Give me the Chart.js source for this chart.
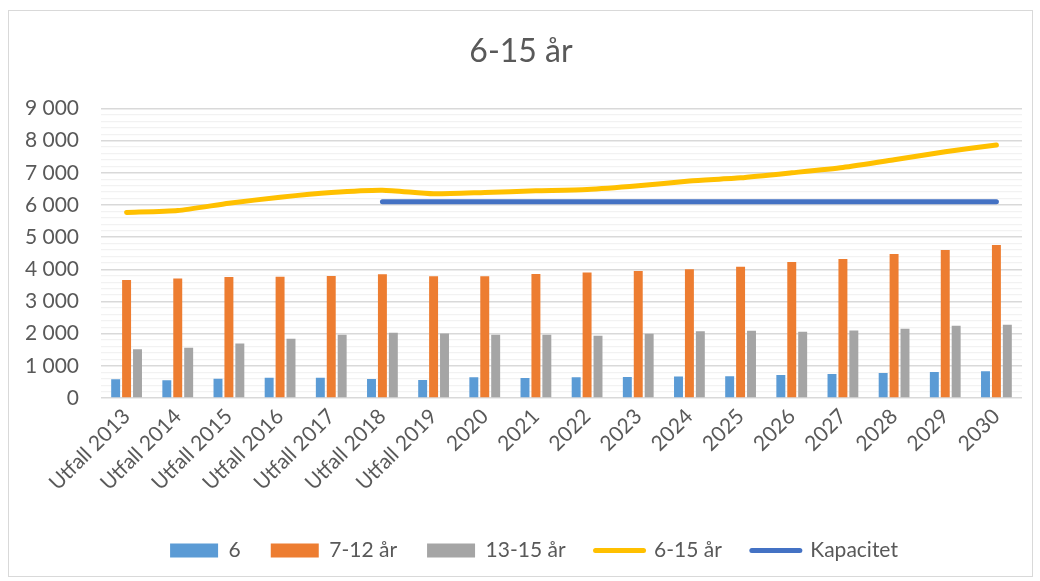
<!DOCTYPE html>
<html>
<head>
<meta charset="utf-8">
<script src="https://cdn.jsdelivr.net/npm/chart.js@4.4.1/dist/chart.umd.min.js"></script>
<style>
  html, body { margin: 0; padding: 0; background: #fff; }
  #wrap { position: relative; width: 1040px; height: 581px; }
  #frame { position: absolute; left: 8px; top: 10px; width: 1023px; height: 565px; border: 1px solid #d9d9d9; }
  canvas { position: absolute; left: 0; top: 0; }
</style>
</head>
<body>
<div id="wrap">
  <div id="frame"></div>
  <canvas id="chart" width="1040" height="581"></canvas>
</div>
<script>
const CATEGORIES = [
  "Utfall 2013", "Utfall 2014", "Utfall 2015", "Utfall 2016", "Utfall 2017",
  "Utfall 2018", "Utfall 2019", "2020", "2021", "2022", "2023", "2024",
  "2025", "2026", "2027", "2028", "2029", "2030",
];

const AGE_6 = [582, 551, 602, 633, 633, 592, 561, 644, 623, 644, 654, 667, 675, 716, 748, 779, 810, 831];
const AGE_7_12 = [3666, 3717, 3759, 3769, 3790, 3842, 3780, 3780, 3852, 3904, 3946, 3998, 4081, 4227, 4320, 4476, 4600, 4757];
const AGE_13_15 = [1517, 1558, 1692, 1838, 1963, 2025, 2004, 1963, 1963, 1931, 1994, 2077, 2087, 2056, 2098, 2150, 2243, 2274];
const AGE_6_15 = [5765, 5826, 6053, 6240, 6386, 6459, 6345, 6387, 6438, 6479, 6594, 6742, 6843, 6999, 7166, 7405, 7653, 7862];
const KAPACITET = [null, null, null, null, null, 6100, 6100, 6100, 6100, 6100, 6100, 6100, 6100, 6100, 6100, 6100, 6100, 6100];

const Y_MAX = 9000;
const Y_STEP = 200;

const FONT = "Lato, 'Liberation Sans', sans-serif";
const TEXT = "#595959";

function fmt(v) {
  return String(v).replace(/\B(?=(\d{3})+(?!\d))/g, " ");
}

function barSet(label, data, color) {
  return {
    type: "bar",
    label,
    data,
    backgroundColor: color,
    borderWidth: 0,
    categoryPercentage: 0.64,
    barPercentage: 0.82,
    order: 2,
  };
}

function lineSet(label, data, color) {
  return {
    type: "line",
    label,
    data,
    borderColor: color,
    backgroundColor: color,
    borderWidth: 5,
    borderCapStyle: "round",
    borderJoinStyle: "round",
    pointRadius: 0,
    pointHoverRadius: 0,
    tension: 0.2,
    spanGaps: false,
    order: 1,
  };
}

// legend in the original sits a bit right of the chart centre
const legendShift = {
  id: "legendShift",
  afterLayout(chart) {
    chart.legend.left += 13;
    chart.legend.right += 13;
  },
};

new Chart(document.getElementById("chart"), {
  data: {
    labels: CATEGORIES,
    datasets: [
      barSet("6", AGE_6, "#5b9bd5"),
      barSet("7-12 år", AGE_7_12, "#ed7d31"),
      barSet("13-15 år", AGE_13_15, "#a5a5a5"),
      lineSet("6-15 år", AGE_6_15, "#ffc000"),
      lineSet("Kapacitet", KAPACITET, "#4472c4"),
    ],
  },
  plugins: [legendShift],
  options: {
    responsive: false,
    animation: false,
    layout: { padding: { top: 15, left: 20, right: 18, bottom: 10 } },
    scales: {
      x: {
        grid: { display: false, drawTicks: false },
        border: { display: false },
        ticks: {
          color: TEXT,
          font: { family: FONT, size: 21 },
          minRotation: 45,
          maxRotation: 45,
          padding: 6,
          autoSkip: false,
        },
        afterFit: (s) => { s.height = 112; },
      },
      y: {
        min: 0,
        max: Y_MAX,
        grid: {
          drawTicks: false,
          color: (c) => (c.tick && c.tick.value % 1000 === 0 ? "#d9d9d9" : "#f2f2f2"),
          lineWidth: (c) => (c.tick && c.tick.value % 1000 === 0 ? 1.5 : 1.2),
        },
        border: { display: false },
        ticks: {
          stepSize: Y_STEP,
          color: TEXT,
          font: { family: FONT, size: 21 },
          padding: 22,
          autoSkip: false,
          callback: (v) => (v % 1000 === 0 ? fmt(v) : ""),
        },
        afterFit: (s) => { s.width = 81; },
      },
    },
    plugins: {
      title: {
        display: true,
        text: "6-15 år",
        color: TEXT,
        font: { family: FONT, size: 32, weight: "normal" },
        padding: { top: 17, bottom: 38 },
      },
      legend: {
        position: "bottom",
        labels: {
          color: TEXT,
          font: { family: FONT, size: 21 },
          usePointStyle: true,
          pointStyleWidth: 48,
          boxHeight: 14,
          padding: 30,
          generateLabels: (chart) =>
            chart.data.datasets.map((d, i) => ({
              text: d.label,
              datasetIndex: i,
              fillStyle: d.backgroundColor,
              strokeStyle: d.type === "line" ? d.borderColor : d.backgroundColor,
              lineWidth: d.type === "line" ? 5 : 0,
              lineCap: "round",
              pointStyle: d.type === "line" ? "line" : "rect",
              fontColor: TEXT,
              hidden: false,
            })),
        },
      },
      tooltip: { enabled: false },
    },
  },
});
</script>
</body>
</html>
